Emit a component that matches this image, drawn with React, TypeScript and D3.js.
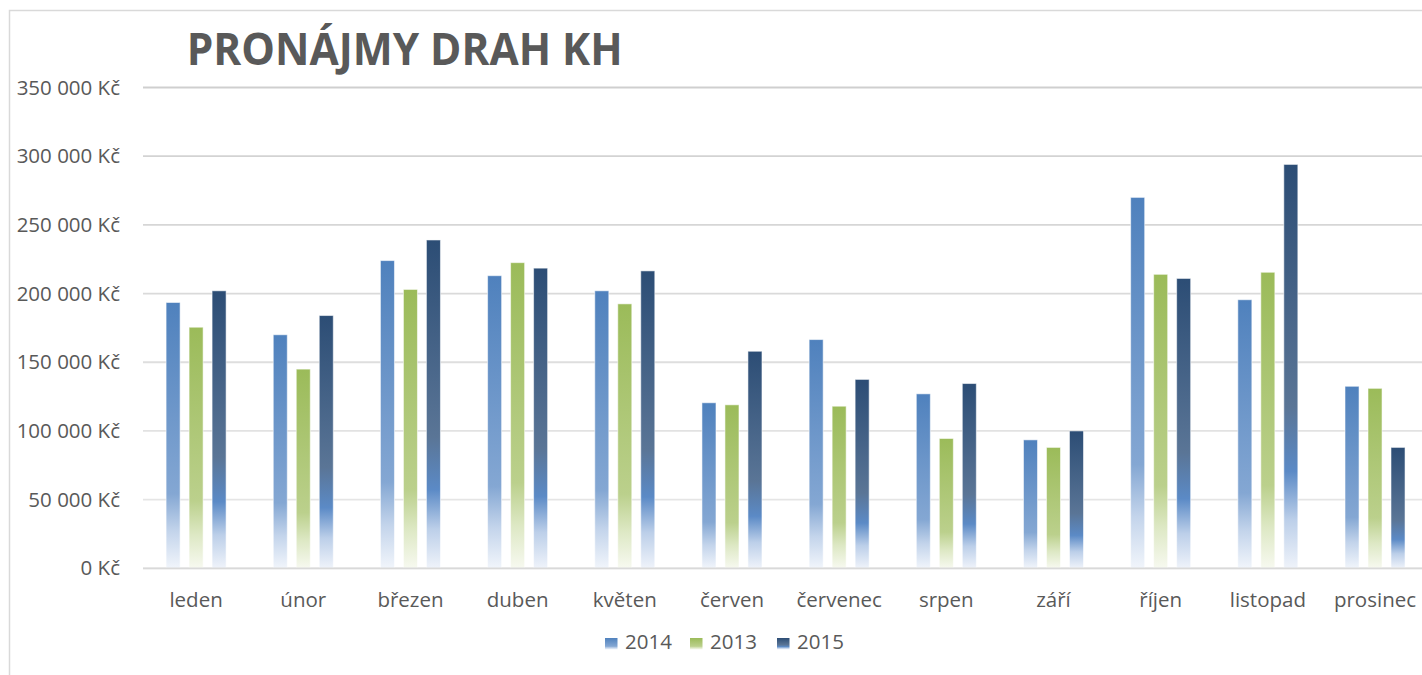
import React from "react";
import * as d3 from "d3";

const months = ["leden", "únor", "březen", "duben", "květen", "červen", "červenec", "srpen", "září", "říjen", "listopad", "prosinec"];
const seriesNames = ["2014", "2013", "2015"];
const values2014 = [193500, 170000, 224000, 213000, 202000, 120500, 166500, 127000, 93500, 270000, 195500, 132500];
const values2013 = [175500, 145000, 203000, 222500, 192500, 119000, 118000, 94500, 88000, 214000, 215500, 131000];
const values2015 = [202000, 184000, 239000, 218500, 216500, 158000, 137500, 134500, 100000, 211000, 294000, 88000];
const yTicks = [0, 50000, 100000, 150000, 200000, 250000, 300000, 350000];
const title = "PRONÁJMY DRAH KH";

const W = 1422;
const H = 675;
const FONT = "'Open Sans', 'DejaVu Sans', sans-serif";
const TEXT = "#595959";

const gradients: Record<string, { offset: string; color: string }[]> = {
  "2014": [
    { offset: "0%", color: "#4f81bd" },
    { offset: "72%", color: "#84a7d3" },
    { offset: "86%", color: "#c3d4eb" },
    { offset: "100%", color: "#f1f5fb" },
  ],
  "2013": [
    { offset: "0%", color: "#9bbb59" },
    { offset: "72%", color: "#bbd08c" },
    { offset: "86%", color: "#dde8c4" },
    { offset: "100%", color: "#f7f9f0" },
  ],
  "2015": [
    { offset: "0%", color: "#2c4d75" },
    { offset: "60%", color: "#5a7596" },
    { offset: "76%", color: "#5b8ac6" },
    { offset: "88%", color: "#bccfe9" },
    { offset: "100%", color: "#eff3fa" },
  ],
};

export default function App() {
  const locale = d3.formatLocale({ decimal: ",", thousands: " ", grouping: [3], currency: ["", " Kč"] });
  const fmt = locale.format(",.0f");
  const tickLabel = (v: number) => `${fmt(v)} Kč`;

  const y = d3.scaleLinear().domain([0, 350000]).range([568.3, 87.5]);
  const x0 = d3.scaleBand<string>().domain(months).range([142.5, 1428.6]).padding(0);
  const groupW = x0.bandwidth() * 0.56;
  const x1 = d3.scaleBand<string>().domain(seriesNames).range([0, groupW]).paddingInner(0.39).paddingOuter(0);

  const data: Record<string, number[]> = { "2014": values2014, "2013": values2013, "2015": values2015 };
  const gridColor = d3.scaleLinear<string>().domain([0, 350000]).range(["#e9e9e9", "#cfcfcf"]);

  const legendX = [605, 690, 777];

  return (
    <svg width={W} height={H} style={{ position: "absolute", left: 0, top: 0, background: "#fff" }}>
      <defs>
        {seriesNames.map((s) => (
          <linearGradient key={s} id={`g${s}`} x1="0" y1="0" x2="0" y2="1">
            {gradients[s].map((st, i) => (
              <stop key={i} offset={st.offset} stopColor={st.color} />
            ))}
          </linearGradient>
        ))}
      </defs>
      <rect x={0} y={0} width={W} height={H} fill="#fff" />
      <rect x={9.5} y={10.5} width={W + 20} height={H + 20} fill="none" stroke="#d9d9d9" strokeWidth={1.5} />

      <text
        x={186.7}
        y={65}
        fontFamily={FONT}
        fontWeight={700}
        fontSize={45}
        fill={TEXT}
        textLength={436}
        lengthAdjust="spacingAndGlyphs"
      >
        {title}
      </text>

      {yTicks.map((t) => (
        <g key={t}>
          <line x1={143} x2={W} y1={y(t)} y2={y(t)} stroke={gridColor(t)} strokeWidth={1.8} />
          <text x={120} y={y(t)} dy="0.35em" textAnchor="end" fontFamily={FONT} fontSize={20.5} fill={TEXT}>
            {tickLabel(t)}
          </text>
        </g>
      ))}

      {months.map((m, i) => (
        <g key={m} transform={`translate(${x0(m)! + (x0.bandwidth() - groupW) / 2},0)`}>
          {seriesNames.map((s) => {
            const v = data[s][i];
            return (
              <rect
                key={s}
                x={x1(s)}
                y={y(v)}
                width={x1.bandwidth()}
                height={y(0) - y(v)}
                fill={`url(#g${s})`}
                stroke="rgba(255,255,255,0.55)"
                strokeWidth={1}
              />
            );
          })}
        </g>
      ))}

      <line x1={143} x2={W} y1={y(0)} y2={y(0)} stroke="#d9d9d9" strokeWidth={1.8} />

      {months.map((m) => (
        <text
          key={m}
          x={x0(m)! + x0.bandwidth() / 2}
          y={607}
          textAnchor="middle"
          fontFamily={FONT}
          fontSize={20.5}
          fill={TEXT}
        >
          {m}
        </text>
      ))}

      {seriesNames.map((s, i) => (
        <g key={s} transform={`translate(${legendX[i]},638)`}>
          <rect x={0} y={0} width={12.5} height={11.5} fill={`url(#g${s})`} />
          <text x={20} y={11.3} fontFamily={FONT} fontSize={20.5} fill={TEXT}>
            {s}
          </text>
        </g>
      ))}
    </svg>
  );
}
